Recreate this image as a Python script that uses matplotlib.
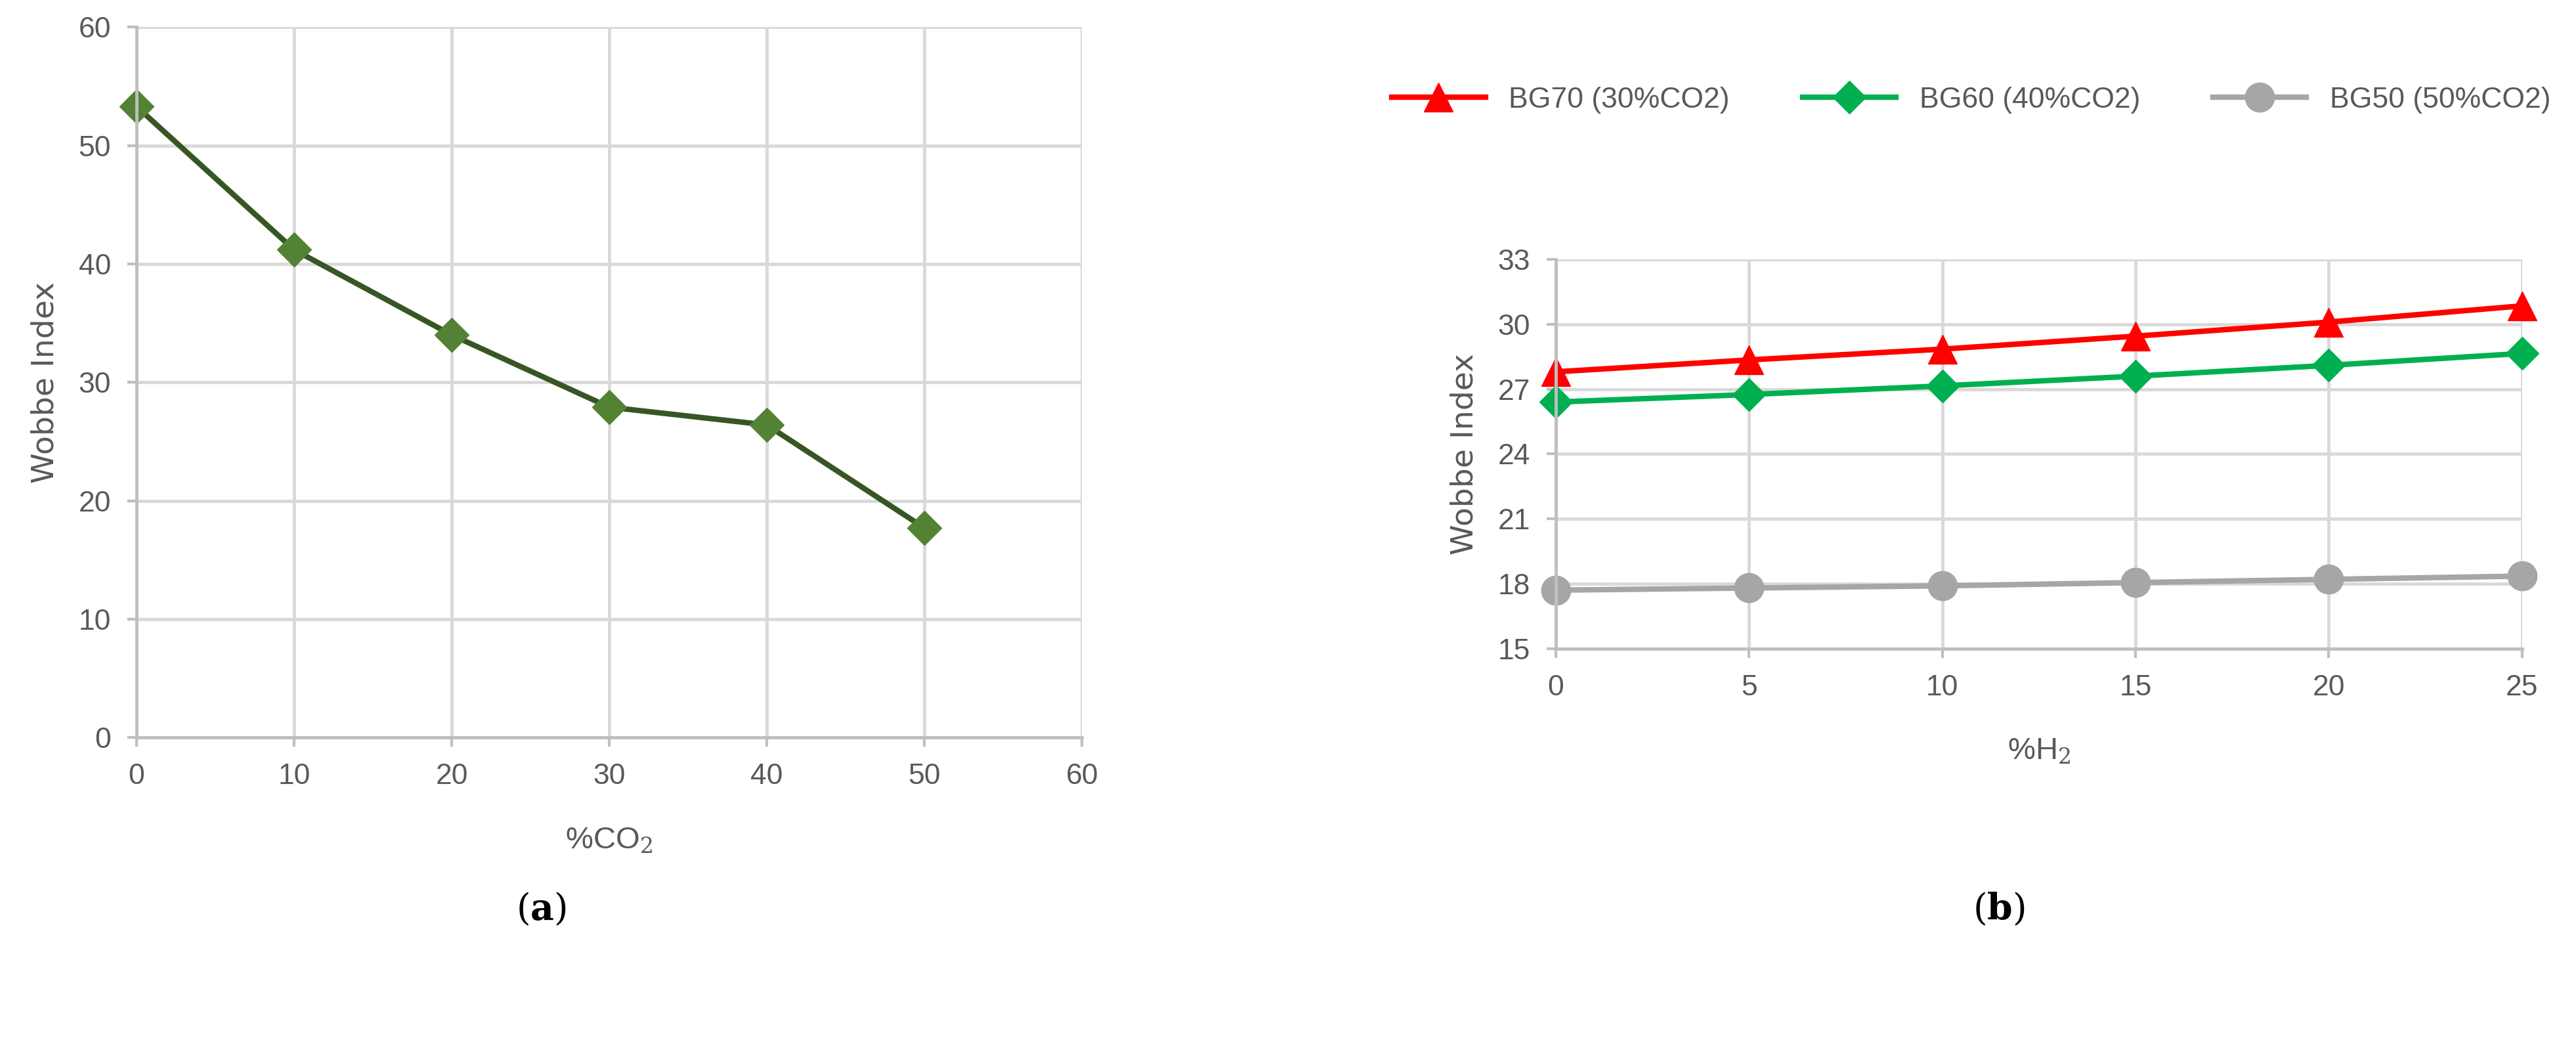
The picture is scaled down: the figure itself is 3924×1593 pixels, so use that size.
import matplotlib
matplotlib.use("Agg")
import matplotlib.pyplot as plt
from matplotlib import font_manager

fams = {f.name for f in font_manager.fontManager.ttflist}
narrow = 'Liberation Sans Narrow' if 'Liberation Sans Narrow' in fams else 'Liberation Sans'
plt.rcParams['font.family'] = [narrow, 'DejaVu Sans']
plt.rcParams['mathtext.fontset'] = 'dejavuserif'

co2 = [0, 10, 20, 30, 40, 50]
wobbe_a = [53.3, 41.2, 34.0, 27.9, 26.4, 17.7]

h2 = [0, 5, 10, 15, 20, 25]
bg70 = [27.8, 28.35, 28.85, 29.45, 30.1, 30.85]
bg60 = [26.4, 26.75, 27.15, 27.6, 28.1, 28.65]
bg50 = [17.7, 17.8, 17.9, 18.05, 18.2, 18.35]

fig = plt.figure(figsize=(39.24, 15.93), dpi=100)
tc = '#595959'
gc = '#d9d9d9'

def style(ax):
    ax.grid(True, color=gc, lw=3.5)
    ax.set_axisbelow(True)
    for s in ['top', 'right']:
        ax.spines[s].set_visible(False)
    for s in ['left', 'bottom']:
        ax.spines[s].set_color('#bfbfbf')
        ax.spines[s].set_linewidth(3.5)
    ax.tick_params(colors=tc, labelsize=32, length=10, width=3, color='#bfbfbf', pad=18)

ax1 = fig.add_axes([0.053, 0.295, 0.367, 0.679])
style(ax1)
ax1.plot(co2, wobbe_a, color='#375623', lw=6, marker='D', ms=26,
         mfc='#548235', mec='#548235', clip_on=False)
ax1.set_xlim(0, 60); ax1.set_ylim(0, 60)
ax1.set_xticks(range(0, 61, 10)); ax1.set_yticks(range(0, 61, 10))
ax1.set_ylabel('Wobbe Index', fontsize=34, color=tc, family='DejaVu Sans', labelpad=20)
ax1.set_xlabel('%CO$_2$', fontsize=34, color=tc, labelpad=40)

ax2 = fig.add_axes([0.604, 0.380, 0.375, 0.372])
style(ax2)
ax2.plot(h2, bg70, color='#ff0000', lw=6, marker='^', ms=32, label='BG70 (30%CO2)', clip_on=False)
ax2.plot(h2, bg60, color='#00b050', lw=6, marker='D', ms=25, label='BG60 (40%CO2)', clip_on=False)
ax2.plot(h2, bg50, color='#a6a6a6', lw=6, marker='o', ms=32, label='BG50 (50%CO2)', clip_on=False)
ax2.set_xlim(0, 25); ax2.set_ylim(15, 33)
ax2.set_xticks(h2); ax2.set_yticks(range(15, 34, 3))
ax2.set_ylabel('Wobbe Index', fontsize=34, color=tc, family='DejaVu Sans', labelpad=20)
ax2.set_xlabel('%H$_2$', fontsize=34, color=tc, labelpad=40)
leg = ax2.legend(loc='center', bbox_to_anchor=(0.43, 1.41), ncol=3, frameon=False,
                 fontsize=32, handlelength=3.2, columnspacing=2.5)
for t in leg.get_texts():
    t.set_color(tc)

fig.text(0.21, 0.13, r'($\mathbf{a}$)', fontsize=40, ha='center', va='center', family='DejaVu Serif')
fig.text(0.776, 0.13, r'($\mathbf{b}$)', fontsize=40, ha='center', va='center', family='DejaVu Serif')
fig.savefig('out.png', dpi=100)
